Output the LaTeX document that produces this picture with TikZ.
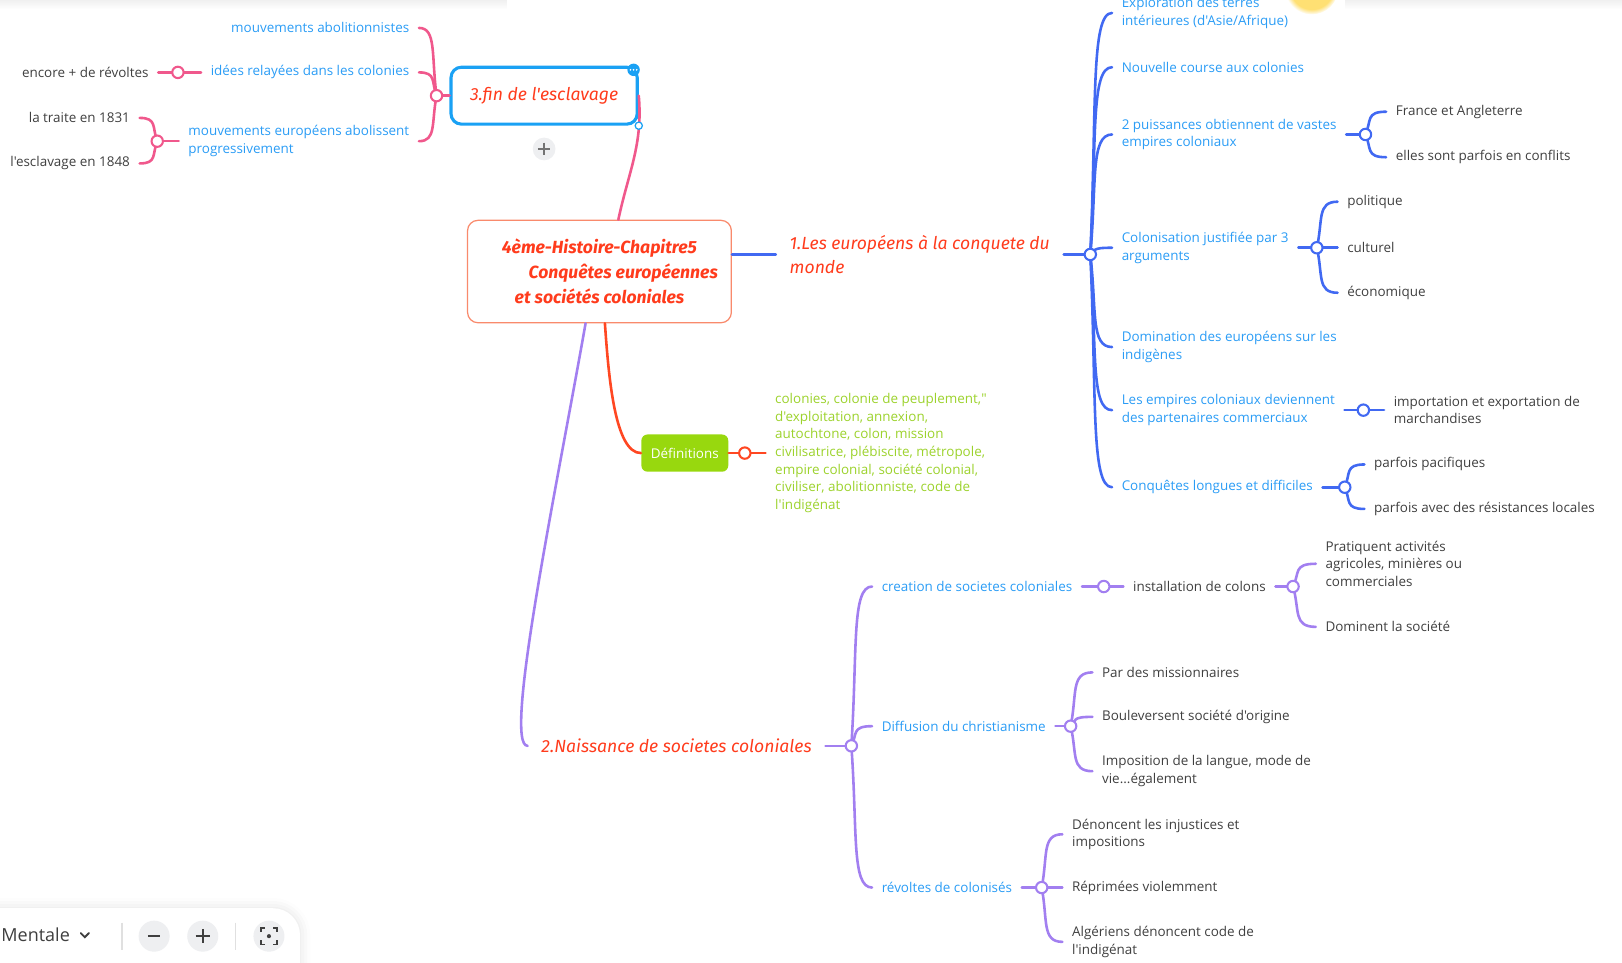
\documentclass[tikz,border=0pt]{standalone}
\usepackage{fontspec}
\setmainfont{Open Sans}[Ligatures=TeXOff]
\newfontfamily\handfont{Fira Sans}[Ligatures=TeXOff]
\usetikzlibrary{calc,fadings,shadows.blur}

\definecolor{pinkln}{HTML}{F0588C}
\definecolor{blueln}{HTML}{4169F2}
\definecolor{purpln}{HTML}{A27FF0}
\definecolor{redln}{HTML}{FF4722}
\definecolor{topicred}{HTML}{FF3B1C}
\definecolor{subblue}{HTML}{2A9CF5}
\definecolor{leafgray}{HTML}{3F3F3F}
\definecolor{defgreen}{HTML}{98D80E}
\definecolor{deftext}{HTML}{9CD22C}
\definecolor{rootedge}{HTML}{F98A6C}
\definecolor{selblue}{HTML}{1AA1F4}
\definecolor{btngray}{HTML}{EEEFF1}

\begin{document}
\begin{tikzpicture}[x=0.5pt,y=-0.5pt,
    txt/.style={font=\fontsize{6.5}{8.5}\selectfont,align=left,inner xsep=4.5pt,inner ysep=1pt},
    sub/.style={txt,text=subblue},
    leaf/.style={txt,text=leafgray},
    topic/.style={font=\handfont\itshape\fontsize{8.5}{11.5}\selectfont,text=topicred,align=left,inner xsep=6.5pt},
    hub/.style={circle,draw,fill=white,line width=1pt,minimum size=5.5pt,inner sep=0pt},
    ln/.style={line width=1.25pt,line cap=round},
    brace/.style={to path={let \p1=(\tikztostart),\p2=(\tikztotarget) in
      .. controls (\x2,\y1) and ({\x2+0.3*(\x1-\x2)},{\y2+0.6*(\y1-\y2)}) .. (\tikztotarget)}},
    btn/.style={circle,fill=btngray,minimum size=15pt,inner sep=0pt}
  ]
  \useasboundingbox (0,0) rectangle (1568,930);
  % top shades
  \fill[black!6,path fading=south] (0,0) rectangle (490,9);
  \fill[black!6,path fading=south] (1300,0) rectangle (1568,9);
  \fill[orange!45!yellow,opacity=0.55,path fading=circle with fuzzy edge 20 percent] (1268,-12) circle (26);

  % hubs
  \coordinate (hp) at (422,92.5);
  \coordinate (hp1) at (172,70);
  \coordinate (hp2) at (152,136.5);
  \coordinate (hb) at (1054,246);
  \coordinate (hb3) at (1320,130);
  \coordinate (hb4) at (1273,239.5);
  \coordinate (hb6) at (1318,396.5);
  \coordinate (hb7) at (1300,471);
  \coordinate (hd) at (720,438);
  \coordinate (hv) at (823,721);
  \coordinate (hv1) at (1067,567);
  \coordinate (hv1a) at (1250,567);
  \coordinate (hv2) at (1035,702);
  \coordinate (hv3) at (1007,858);

  % root and main topics
  \node[draw=rootedge,line width=0.6pt,rounded corners=5pt,fill=white,
    minimum width=127.5pt,minimum height=49.5pt,align=center,text=topicred,
    font=\handfont\bfseries\itshape\fontsize{8.5}{12}\selectfont] (root) at (579.5,262.5)
    {4ème-Histoire-Chapitre5\\\hspace*{23pt}Conquêtes européennes\\et sociétés coloniales};
  \node[topic,draw=selblue,line width=1.5pt,rounded corners=5pt,fill=white,
    minimum width=90pt,minimum height=27.5pt,align=center] (fin) at (526,92.5) {3.fin de l'esclavage};
  \node[topic,anchor=west] (t1) at (750,246) {1.Les européens à la conquete du\\monde};
  \node[topic,anchor=west] (t2) at (510,721) {2.Naissance de societes coloniales};
  \node[fill=defgreen,rounded corners=3pt,minimum width=42pt,minimum height=18pt,
    text=white,font=\fontsize{6.5}{8.5}\selectfont] (def) at (662,438) {Définitions};

  % 3. fin de l'esclavage
  \node[sub,anchor=east] (p1) at (405,27) {mouvements abolitionnistes};
  \node[sub,anchor=east] (p2) at (405,70) {idées relayées dans les colonies};
  \node[sub,anchor=east] (p3) at (405,136.5) {mouvements européens abolissent\\progressivement};
  \node[leaf,anchor=east] (q1) at (153,70) {encore + de révoltes};
  \node[leaf,anchor=east] (q2) at (135,114) {la traite en 1831};
  \node[leaf,anchor=east] (q3) at (135,158) {l'esclavage en 1848};

  % 1. conquete
  \node[sub,anchor=west] (c1) at (1075,12.5) {Exploration des terres\\intérieures (d'Asie/Afrique)};
  \node[sub,anchor=west] (c2) at (1075,65) {Nouvelle course aux colonies};
  \node[sub,anchor=west] (c3) at (1075,130) {2 puissances obtiennent de vastes\\empires coloniaux};
  \node[sub,anchor=west] (c4) at (1075,239.5) {Colonisation justifiée par 3\\arguments};
  \node[sub,anchor=west] (c5) at (1075,335.5) {Domination des européens sur les\\indigènes};
  \node[sub,anchor=west] (c6) at (1075,396.5) {Les empires coloniaux deviennent\\des partenaires commerciaux};
  \node[sub,anchor=west] (c7) at (1075,471) {Conquêtes longues et difficiles};
  \node[leaf,anchor=west] (c3a) at (1340,108) {France et Angleterre};
  \node[leaf,anchor=west] (c3b) at (1340,152) {elles sont parfois en conflits};
  \node[leaf,anchor=west] (c4a) at (1293,195) {politique};
  \node[leaf,anchor=west] (c4b) at (1293,239.5) {culturel};
  \node[leaf,anchor=west] (c4c) at (1293,283) {économique};
  \node[leaf,anchor=west] (c6a) at (1338,396.5) {importation et exportation de\\marchandises};
  \node[leaf,anchor=west] (c7a) at (1319,449) {parfois pacifiques};
  \node[leaf,anchor=west] (c7b) at (1319,492) {parfois avec des résistances locales};

  % definitions
  \node[txt,text=deftext,anchor=west] (deftxt) at (740,438) {colonies, colonie de peuplement,"\\d'exploitation, annexion,\\autochtone, colon, mission\\civilisatrice, plébiscite, métropole,\\empire colonial, société colonial,\\civiliser, abolitionniste, code de\\l'indigénat};

  % 2. naissance
  \node[sub,anchor=west] (d1) at (843,567) {creation de societes coloniales};
  \node[sub,anchor=west] (d2) at (843,702) {Diffusion du christianisme};
  \node[sub,anchor=west] (d3) at (843,858) {révoltes de colonisés};
  \node[leaf,anchor=west] (d1a) at (1086,567) {installation de colons};
  \node[leaf,anchor=west] (d1b) at (1272,545) {Pratiquent activités\\agricoles, minières ou\\commerciales};
  \node[leaf,anchor=west] (d1c) at (1272,606) {Dominent la société};
  \node[leaf,anchor=west] (d2a) at (1056,650) {Par des missionnaires};
  \node[leaf,anchor=west] (d2b) at (1056,693) {Bouleversent société d'origine};
  \node[leaf,anchor=west] (d2c) at (1056,745.5) {Imposition de la langue, mode de\\vie...également};
  \node[leaf,anchor=west] (d3a) at (1027,806.5) {Dénoncent les injustices et\\impositions};
  \node[leaf,anchor=west] (d3b) at (1027,858) {Réprimées violemment};
  \node[leaf,anchor=west] (d3c) at (1027,910.5) {Algériens dénoncent code de\\l'indigénat};

  % connectors
  \draw[ln,pinkln] (root.70) to[out=78,in=-85] (fin.east);
  \draw[ln,blueln] (t1.west -| root.east) -- (t1.west);
  \draw[ln,redln] (root.-84) to[out=-86,in=180,in looseness=0.5] (def.west);
  \draw[ln,purpln] (root.-105) to[out=-100,in=180,in looseness=0.15] (t2.west);

  \draw[ln,pinkln] (fin.west) -- (hp);
  \foreach \c in {p1,p2,p3} \draw[ln,pinkln] (\c.east) to[brace] (hp);
  \draw[ln,pinkln] (p2.west) -- (q1.east);
  \draw[ln,pinkln] (p3.west) -- (hp2);
  \foreach \c in {q2,q3} \draw[ln,pinkln] (\c.east) to[brace] (hp2);

  \draw[ln,blueln] (t1.east) -- (hb);
  \foreach \c in {c1,c2,c3,c4,c5,c6,c7} \draw[ln,blueln] (\c.west) to[brace] (hb);
  \draw[ln,blueln] (c3.east) -- (hb3);
  \foreach \c in {c3a,c3b} \draw[ln,blueln] (\c.west) to[brace] (hb3);
  \draw[ln,blueln] (c4.east) -- (hb4);
  \foreach \c in {c4a,c4b,c4c} \draw[ln,blueln] (\c.west) to[brace] (hb4);
  \draw[ln,blueln] (c6.east) -- (c6a.west);
  \draw[ln,blueln] (c7.east) -- (hb7);
  \foreach \c in {c7a,c7b} \draw[ln,blueln] (\c.west) to[brace] (hb7);

  \draw[ln,redln] (def.east) -- (deftxt.west);

  \draw[ln,purpln] (t2.east) -- (hv);
  \foreach \c in {d1,d2,d3} \draw[ln,purpln] (\c.west) to[brace] (hv);
  \draw[ln,purpln] (d1.east) -- (d1a.west);
  \draw[ln,purpln] (d1a.east) -- (hv1a);
  \foreach \c in {d1b,d1c} \draw[ln,purpln] (\c.west) to[brace] (hv1a);
  \draw[ln,purpln] (d2.east) -- (hv2);
  \foreach \c in {d2a,d2b,d2c} \draw[ln,purpln] (\c.west) to[brace] (hv2);
  \draw[ln,purpln] (d3.east) -- (hv3);
  \foreach \c in {d3a,d3b,d3c} \draw[ln,purpln] (\c.west) to[brace] (hv3);

  \foreach \h/\k in {hp/pinkln,hp1/pinkln,hp2/pinkln,hb/blueln,hb3/blueln,hb4/blueln,hb6/blueln,
      hb7/blueln,hd/redln,hv/purpln,hv1/purpln,hv1a/purpln,hv2/purpln,hv3/purpln}
    \node[hub,draw=\k] at (\h) {};

  % selection marks on the 3rd topic
  \fill[selblue] (fin.north east) ++(-5,4) circle (6);
  \foreach \d in {-3,0,3} \fill[white] (fin.north east) ++(-5+\d,4) circle (0.9);
  \draw[selblue,fill=white,line width=0.6pt] (fin.south east) circle (3.5);
  \node[btn,minimum size=11pt] (addbtn) at (526,144) {};
  \draw[black!55,line width=0.8pt] ($(addbtn)+(-6,0)$) -- ($(addbtn)+(6,0)$)
    ($(addbtn)+(0,-6)$) -- ($(addbtn)+(0,6)$);

  % toolbar
  \fill[white,rounded corners=13pt,blur shadow={shadow xshift=0pt,shadow yshift=0pt,
    shadow blur radius=5pt,shadow opacity=12}] (-40,878) rectangle (290,960);
  \node[anchor=west,inner sep=0pt,text=leafgray,font=\fontsize{8.7}{10}\selectfont] (mode) at (1,904) {Mentale};
  \draw[leafgray,line width=0.9pt,line cap=round] (78,902) -- (82,906) -- (86,902);
  \draw[black!12,line width=0.6pt] (118,892) -- (118,918) (228,892) -- (228,918);
  \node[btn] (zout) at (149,905) {};
  \node[btn] (zin) at (196,905) {};
  \node[btn] (zfit) at (260,905) {};
  \draw[leafgray,line width=1.1pt] ($(zout)+(-6,0)$) -- ($(zout)+(6,0)$)
    ($(zin)+(-7,0)$) -- ($(zin)+(7,0)$) ($(zin)+(0,-7)$) -- ($(zin)+(0,7)$);
  \draw[leafgray,line width=0.9pt]
    ($(zfit)+(-8,-4)$) -- ($(zfit)+(-8,-8)$) -- ($(zfit)+(-4,-8)$)
    ($(zfit)+(4,-8)$) -- ($(zfit)+(8,-8)$) -- ($(zfit)+(8,-4)$)
    ($(zfit)+(8,4)$) -- ($(zfit)+(8,8)$) -- ($(zfit)+(4,8)$)
    ($(zfit)+(-4,8)$) -- ($(zfit)+(-8,8)$) -- ($(zfit)+(-8,4)$);
  \fill[leafgray] (zfit) circle (2);
\end{tikzpicture}
\end{document}
